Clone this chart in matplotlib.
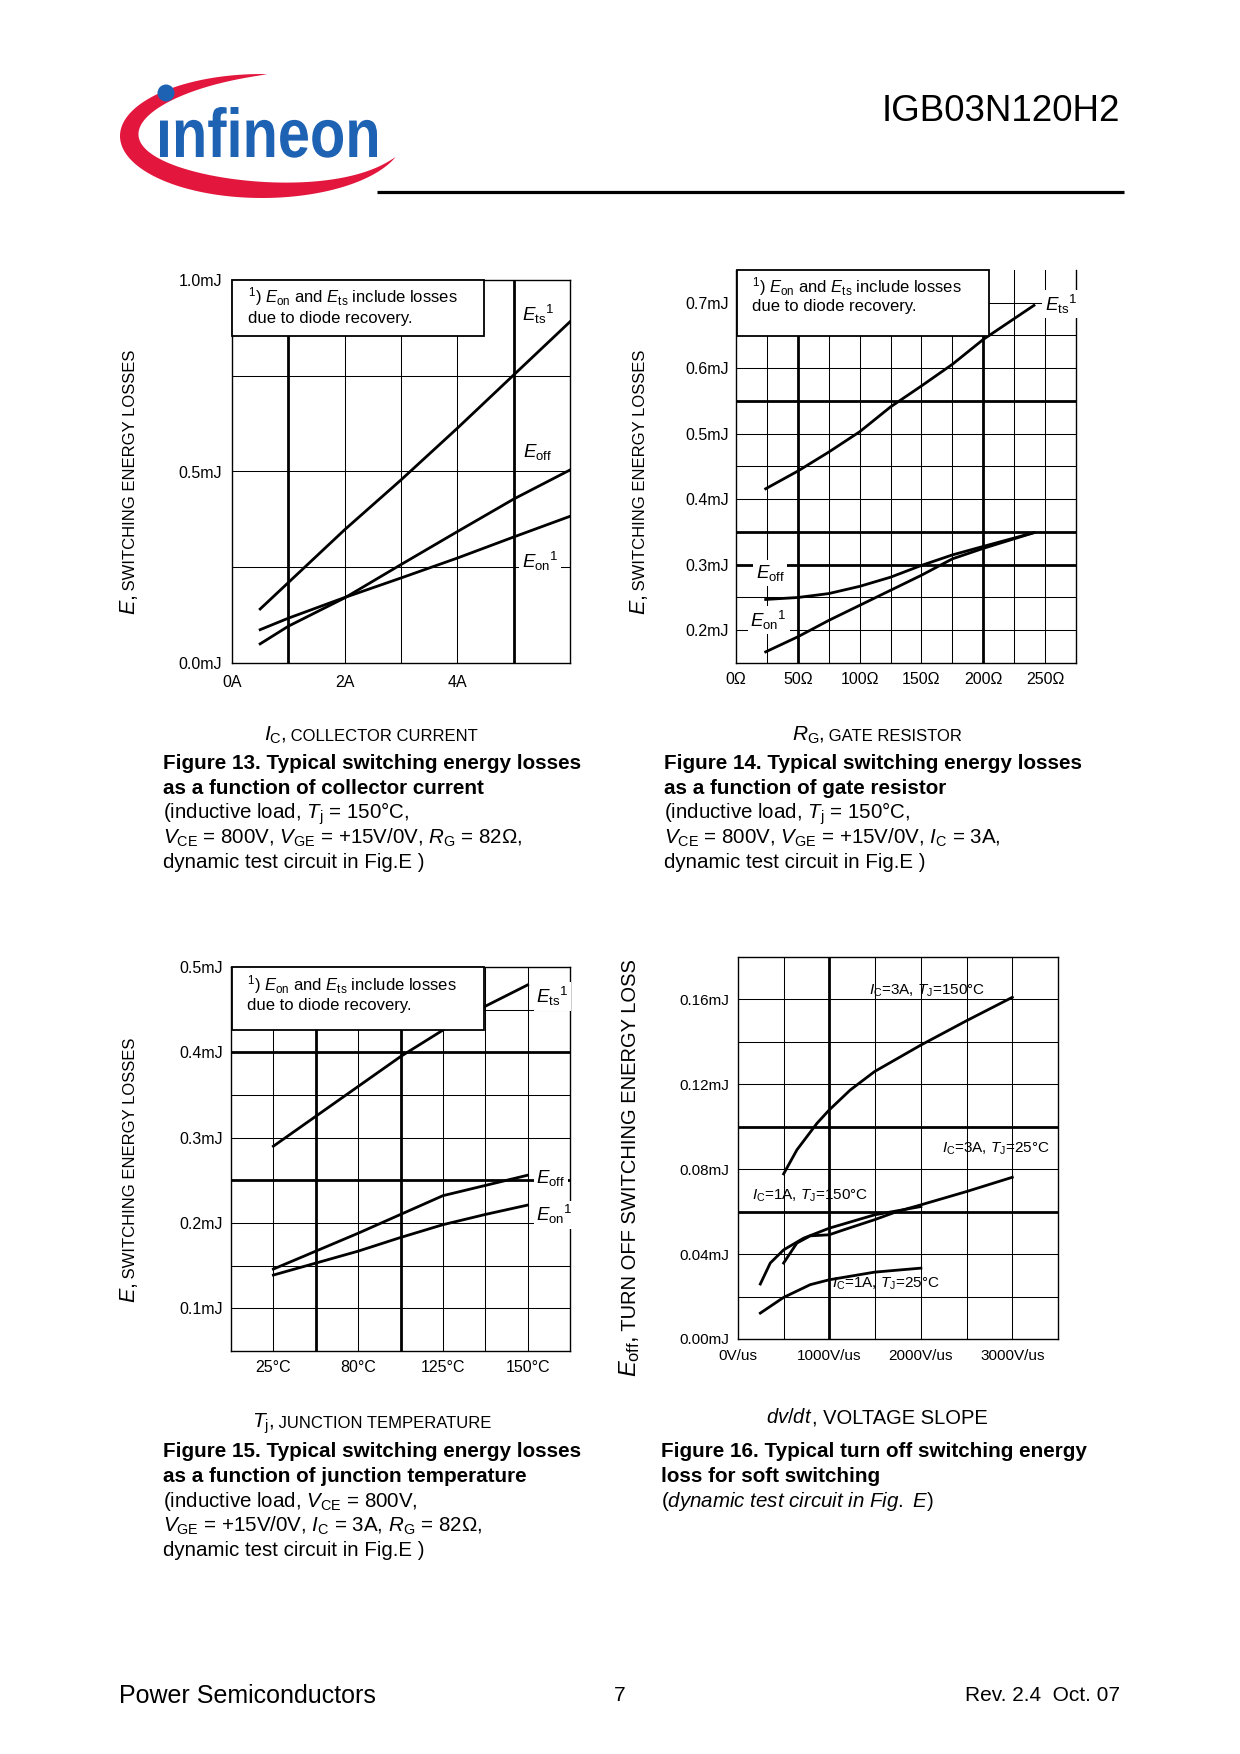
import numpy as np
import matplotlib
matplotlib.use("Agg")
import matplotlib.pyplot as plt
from matplotlib.patches import Rectangle, Polygon, Circle, PathPatch
from matplotlib.textpath import TextPath
from matplotlib.font_manager import FontProperties
from matplotlib.transforms import Affine2D

plt.rcParams["font.family"] = ["Liberation Sans", "DejaVu Sans"]
plt.rcParams["mathtext.fontset"] = "custom"
plt.rcParams["mathtext.rm"] = "Liberation Sans"
plt.rcParams["mathtext.it"] = "Liberation Sans:italic"
plt.rcParams["mathtext.bf"] = "Liberation Sans:bold"

# Figure 13: losses vs collector current (A, mJ)
ic_a = [0.5, 1, 2, 3, 4, 5, 6]
ets_ic = [0.141, 0.21, 0.348, 0.478, 0.613, 0.752, 0.891]
eoff_ic = [0.05, 0.096, 0.17, 0.257, 0.343, 0.428, 0.504]
eon_ic = [0.087, 0.117, 0.171, 0.222, 0.274, 0.329, 0.383]

# Figure 14: losses vs gate resistor (ohm, mJ)
rg_ohm = [24, 50, 75, 100, 125, 150, 175, 200, 241]
ets_rg = [0.416, 0.443, 0.472, 0.503, 0.541, 0.573, 0.606, 0.644, 0.696]
eoff_rg = [0.247, 0.250, 0.256, 0.267, 0.281, 0.299, 0.315, 0.328, 0.349]
eon_rg = [0.167, 0.190, 0.215, 0.238, 0.261, 0.284, 0.309, 0.325, 0.349]

# Figure 15: losses vs junction temperature (grid position, mJ)
tj_pos = [1, 2, 3, 4, 5, 6, 7]
tj_tick_pos = [1, 3, 5, 7]
tj_labels = ["25°C", "80°C", "125°C", "150°C"]
ets_tj = [0.290, 0.325, 0.360, 0.395, 0.426, 0.454, 0.479]
eoff_tj = [0.146, 0.167, 0.188, 0.210, 0.232, 0.244, 0.256]
eon_tj = [0.139, 0.153, 0.167, 0.183, 0.198, 0.210, 0.221]

# Figure 16: turn off loss vs dv/dt (V/us, mJ)
dvdt_3a150 = [499, 644, 863, 997, 1227, 1493, 2000, 2501, 3000]
eoff_3a150 = [0.0778, 0.0891, 0.1016, 0.1079, 0.1173, 0.126, 0.1385, 0.150, 0.161]
dvdt_3a25 = [499, 644, 790, 997, 1154, 1493, 1736, 2000, 2501, 3000]
eoff_3a25 = [0.0358, 0.0452, 0.0486, 0.0491, 0.0514, 0.0562, 0.060, 0.0632, 0.0695, 0.0762]
dvdt_1a150 = [244, 353, 499, 717, 997, 1493, 2000]
eoff_1a150 = [0.0259, 0.0358, 0.042, 0.0475, 0.0522, 0.0585, 0.0624]
dvdt_1a25 = [244, 499, 790, 997, 1493, 2000]
eoff_1a25 = [0.0122, 0.0196, 0.0256, 0.0279, 0.0315, 0.0334]

W, H = 1240, 1754
fig = plt.figure(figsize=(W / 100, H / 100), dpi=100)

# overlay axes in page pixels (y down), drawn above the charts
bg = fig.add_axes([0, 0, 1, 1], zorder=10)
bg.set_xlim(0, W)
bg.set_ylim(H, 0)
bg.axis("off")
rend = fig.canvas.get_renderer()


def panel(x0, y0, x1, y1):
    ax = fig.add_axes([x0 / W, 1 - y1 / H, (x1 - x0) / W, (y1 - y0) / H])
    for sp in ax.spines.values():
        sp.set_linewidth(1.0)
    return ax


def ticks(ax, xt, xl, yt, yl, size, xpad, ypad):
    ax.set_xticks(xt, xl)
    ax.set_yticks(yt, yl)
    ax.tick_params(length=0, labelsize=size)
    ax.tick_params(axis="x", pad=xpad)
    ax.tick_params(axis="y", pad=ypad)


def grid(ax, xs, ys, thick_x=(), thick_y=()):
    for v in xs:
        ax.axvline(v, color="black", zorder=1,
                   lw=2.0 if np.any(np.isclose(v, thick_x)) else 0.75)
    for v in ys:
        ax.axhline(v, color="black", zorder=1,
                   lw=2.0 if np.any(np.isclose(v, thick_y)) else 0.75)


def curve(ax, x, y):
    ax.plot(x, y, color="black", lw=2.0, zorder=3)


def note_box(x0, y0, x1, y1, tx, b1, b2):
    bg.add_patch(Rectangle((x0, y0), x1 - x0, y1 - y0, fc="white", ec="black", lw=1.3))
    bg.text(tx, b1, r"${}^{1}$) $E_{\rm on}$ and $E_{\rm ts}$ include losses",
            fontsize=12, va="baseline")
    bg.text(tx, b2, "due to diode recovery.", fontsize=12, va="baseline")


def tag(x, y, s):
    bg.text(x, y, s, fontsize=13.5, va="baseline",
            bbox=dict(boxstyle="square,pad=0.15", fc="white", ec="none"))


def rich(x, y, parts, center=False):
    cx = x
    items = []
    for s, size in parts:
        t = bg.text(cx, y, s, fontsize=size, ha="left", va="baseline")
        cx += t.get_window_extent(renderer=rend).width
        items.append(t)
    if center:
        shift = (cx - x) / 2
        for t in items:
            t.set_x(t.get_position()[0] - shift)


def rich_v(x, y, parts):
    cy = y
    for s, size in parts:
        t = bg.text(x, cy, s, fontsize=size, rotation=90, rotation_mode="anchor",
                    ha="left", va="baseline")
        cy -= t.get_window_extent(renderer=rend).height


def caption(x, y0, lines):
    for i, (s, bold) in enumerate(lines):
        bg.text(x, y0 + i * 24.8, s, va="baseline",
                fontsize=14.9 if bold else 14.8,
                fontweight="bold" if bold else "normal")


# ---- Figure 13 ----
ax = panel(232, 280, 570, 663)
ax.set_xlim(0, 6)
ax.set_ylim(0, 1.0)
grid(ax, np.arange(1, 6), np.arange(0.25, 1.0, 0.25), thick_x=(1, 5))
curve(ax, ic_a, ets_ic)
curve(ax, ic_a, eoff_ic)
curve(ax, ic_a, eon_ic)
ticks(ax, [0, 2, 4], ["0A", "2A", "4A"], [0, 0.5, 1.0], ["0.0mJ", "0.5mJ", "1.0mJ"],
      11.5, 8.5, 7)
note_box(232, 280, 484, 336, 248, 302.5, 322.5)
tag(521.5, 321.5, r"$E_{\rm ts}{}^{1}$")
tag(523, 456.5, r"$E_{\rm off}$")
tag(521.5, 568, r"$E_{\rm on}{}^{1}$")

# ---- Figure 14 ----
ax = panel(736, 270, 1076, 663)
ax.set_xlim(0, 275)
ax.set_ylim(0.15, 0.75)
ax.spines["top"].set_visible(False)
grid(ax, np.arange(25, 275, 25), np.arange(0.2, 0.75, 0.05),
     thick_x=(50, 200), thick_y=(0.3, 0.35, 0.55))
curve(ax, rg_ohm, ets_rg)
curve(ax, rg_ohm, eoff_rg)
curve(ax, rg_ohm, eon_rg)
ticks(ax, [0, 50, 100, 150, 200, 250], ["0Ω", "50Ω", "100Ω", "150Ω", "200Ω", "250Ω"],
      [0.2, 0.3, 0.4, 0.5, 0.6, 0.7],
      ["0.2mJ", "0.3mJ", "0.4mJ", "0.5mJ", "0.6mJ", "0.7mJ"], 11.5, 6.5, 5)
note_box(737, 270, 989, 336, 752, 292.5, 311.5)
tag(1045, 310.5, r"$E_{\rm ts}{}^{1}$")
tag(755.5, 578, r"$E_{\rm off}$")
tag(750.5, 626.5, r"$E_{\rm on}{}^{1}$")

# ---- Figure 15 ----
ax = panel(231, 967, 570, 1351)
ax.set_xlim(0, 8)
ax.set_ylim(0.05, 0.5)
grid(ax, np.arange(1, 8), np.arange(0.1, 0.5, 0.05), thick_x=(2, 4), thick_y=(0.25, 0.4))
curve(ax, tj_pos, ets_tj)
curve(ax, tj_pos, eoff_tj)
curve(ax, tj_pos, eon_tj)
ticks(ax, tj_tick_pos, tj_labels, [0.1, 0.2, 0.3, 0.4, 0.5],
      ["0.1mJ", "0.2mJ", "0.3mJ", "0.4mJ", "0.5mJ"], 11.5, 6.5, 6)
note_box(232, 967, 484, 1030, 247, 990.5, 1010)
tag(536.5, 1003, r"$E_{\rm ts}{}^{1}$")
tag(536.5, 1183, r"$E_{\rm off}$")
tag(536.5, 1221.5, r"$E_{\rm on}{}^{1}$")

# ---- Figure 16 ----
ax = panel(738, 957, 1058, 1339)
ax.set_xlim(0, 3500)
ax.set_ylim(0, 0.18)
grid(ax, np.arange(500, 3500, 500), np.arange(0.02, 0.18, 0.02),
     thick_x=(1000,), thick_y=(0.06, 0.10))
curve(ax, dvdt_3a150, eoff_3a150)
curve(ax, dvdt_3a25, eoff_3a25)
curve(ax, dvdt_1a150, eoff_1a150)
curve(ax, dvdt_1a25, eoff_1a25)
ticks(ax, [0, 1000, 2000, 3000], ["0V/us", "1000V/us", "2000V/us", "3000V/us"],
      [0, 0.04, 0.08, 0.12, 0.16], ["0.00mJ", "0.04mJ", "0.08mJ", "0.12mJ", "0.16mJ"],
      11, 7.5, 6.5)
bg.text(869, 995, r"$I_{\rm C}$=3A, $T_{\rm J}$=150°C", fontsize=11, va="baseline")
bg.text(942, 1152.5, r"$I_{\rm C}$=3A, $T_{\rm J}$=25°C", fontsize=11, va="baseline")
bg.text(751.5, 1200, r"$I_{\rm C}$=1A, $T_{\rm J}$=150°C", fontsize=11, va="baseline")
bg.text(831.5, 1288, r"$I_{\rm C}$=1A, $T_{\rm J}$=25°C", fontsize=11, va="baseline")

# ---- axis titles ----
rich_v(135, 615, [(r"$E$,", 15.5), (" SWITCHING ENERGY LOSSES", 12)])
rich_v(645, 615, [(r"$E$,", 15.5), (" SWITCHING ENERGY LOSSES", 12)])
rich_v(135, 1303, [(r"$E$,", 15.5), (" SWITCHING ENERGY LOSSES", 12)])
rich_v(636, 1377, [(r"$E_{\rm off}$,", 17), (" TURN OFF SWITCHING ENERGY LOSS", 14.5)])

rich(371, 741, [(r"$I_{\rm C}$,", 15), (" COLLECTOR CURRENT", 12)], center=True)
rich(877, 741, [(r"$R_{\rm G}$,", 15), (" GATE RESISTOR", 12)], center=True)
rich(372, 1428, [(r"$T_{\rm j}$,", 15), (" JUNCTION TEMPERATURE", 12)], center=True)
rich(877, 1423, [(r"$dv/dt$", 14.5), (", VOLTAGE SLOPE", 14.5)], center=True)

# ---- captions ----
caption(163, 769, [
    ("Figure 13. Typical switching energy losses", True),
    ("as a function of collector current", True),
    (r"(inductive load, $T_{\rm j}$ = 150°C,", False),
    (r"$V_{\rm CE}$ = 800V, $V_{\rm GE}$ = +15V/0V, $R_{\rm G}$ = 82Ω,", False),
    ("dynamic test circuit in Fig.E )", False),
])
caption(664, 769, [
    ("Figure 14. Typical switching energy losses", True),
    ("as a function of gate resistor", True),
    (r"(inductive load, $T_{\rm j}$ = 150°C,", False),
    (r"$V_{\rm CE}$ = 800V, $V_{\rm GE}$ = +15V/0V, $I_{\rm C}$ = 3A,", False),
    ("dynamic test circuit in Fig.E )", False),
])
caption(163, 1457, [
    ("Figure 15. Typical switching energy losses", True),
    ("as a function of junction temperature", True),
    (r"(inductive load, $V_{\rm CE}$ = 800V,", False),
    (r"$V_{\rm GE}$ = +15V/0V, $I_{\rm C}$ = 3A, $R_{\rm G}$ = 82Ω,", False),
    ("dynamic test circuit in Fig.E )", False),
])
caption(661, 1457, [
    ("Figure 16. Typical turn off switching energy", True),
    ("loss for soft switching", True),
    (r"($\mathit{dynamic\ test\ circuit\ in\ Fig.\ E}$)", False),
])

# ---- header ----
th = np.linspace(np.radians(88), np.radians(340), 240)
s = (th - th[0]) / (th[-1] - th[0])
thick = 20 * np.sin(np.pi * s) ** 0.8
cx, cy, a, b = 262, 136, 142, 62
outer = np.c_[cx + a * np.cos(th), cy - b * np.sin(th)]
inner = np.c_[cx + (a - thick) * np.cos(th), cy - (b - thick) * np.sin(th)]
bg.add_patch(Polygon(np.vstack([outer, inner[::-1]]), closed=True, fc="#e3173e", ec="none"))

tp = TextPath((0, 0), "ınfineon", size=100,
              prop=FontProperties(family="Liberation Sans", weight="bold"))
ext = tp.get_extents()
tr = Affine2D().translate(-ext.x0, 0).scale(217 / ext.width, -50 / ext.y1).translate(160, 157)
bg.add_patch(PathPatch(tr.transform_path(tp), fc="#1d62b3", ec="none"))
bg.add_patch(Circle((166, 93), 8.5, fc="#1d62b3", ec="none"))

bg.text(1120, 121, "IGB03N120H2", ha="right", va="baseline", fontsize=26.5)
bg.plot([377, 1124], [192, 192], color="black", lw=2.3, solid_capstyle="butt")

# ---- footer ----
bg.text(119, 1703, "Power Semiconductors", fontsize=18, va="baseline")
bg.text(619.5, 1701, "7", fontsize=15, ha="center", va="baseline")
bg.text(1120, 1701, "Rev. 2.4  Oct. 07", fontsize=15, ha="right", va="baseline")

fig.savefig("out.png", dpi=100)
